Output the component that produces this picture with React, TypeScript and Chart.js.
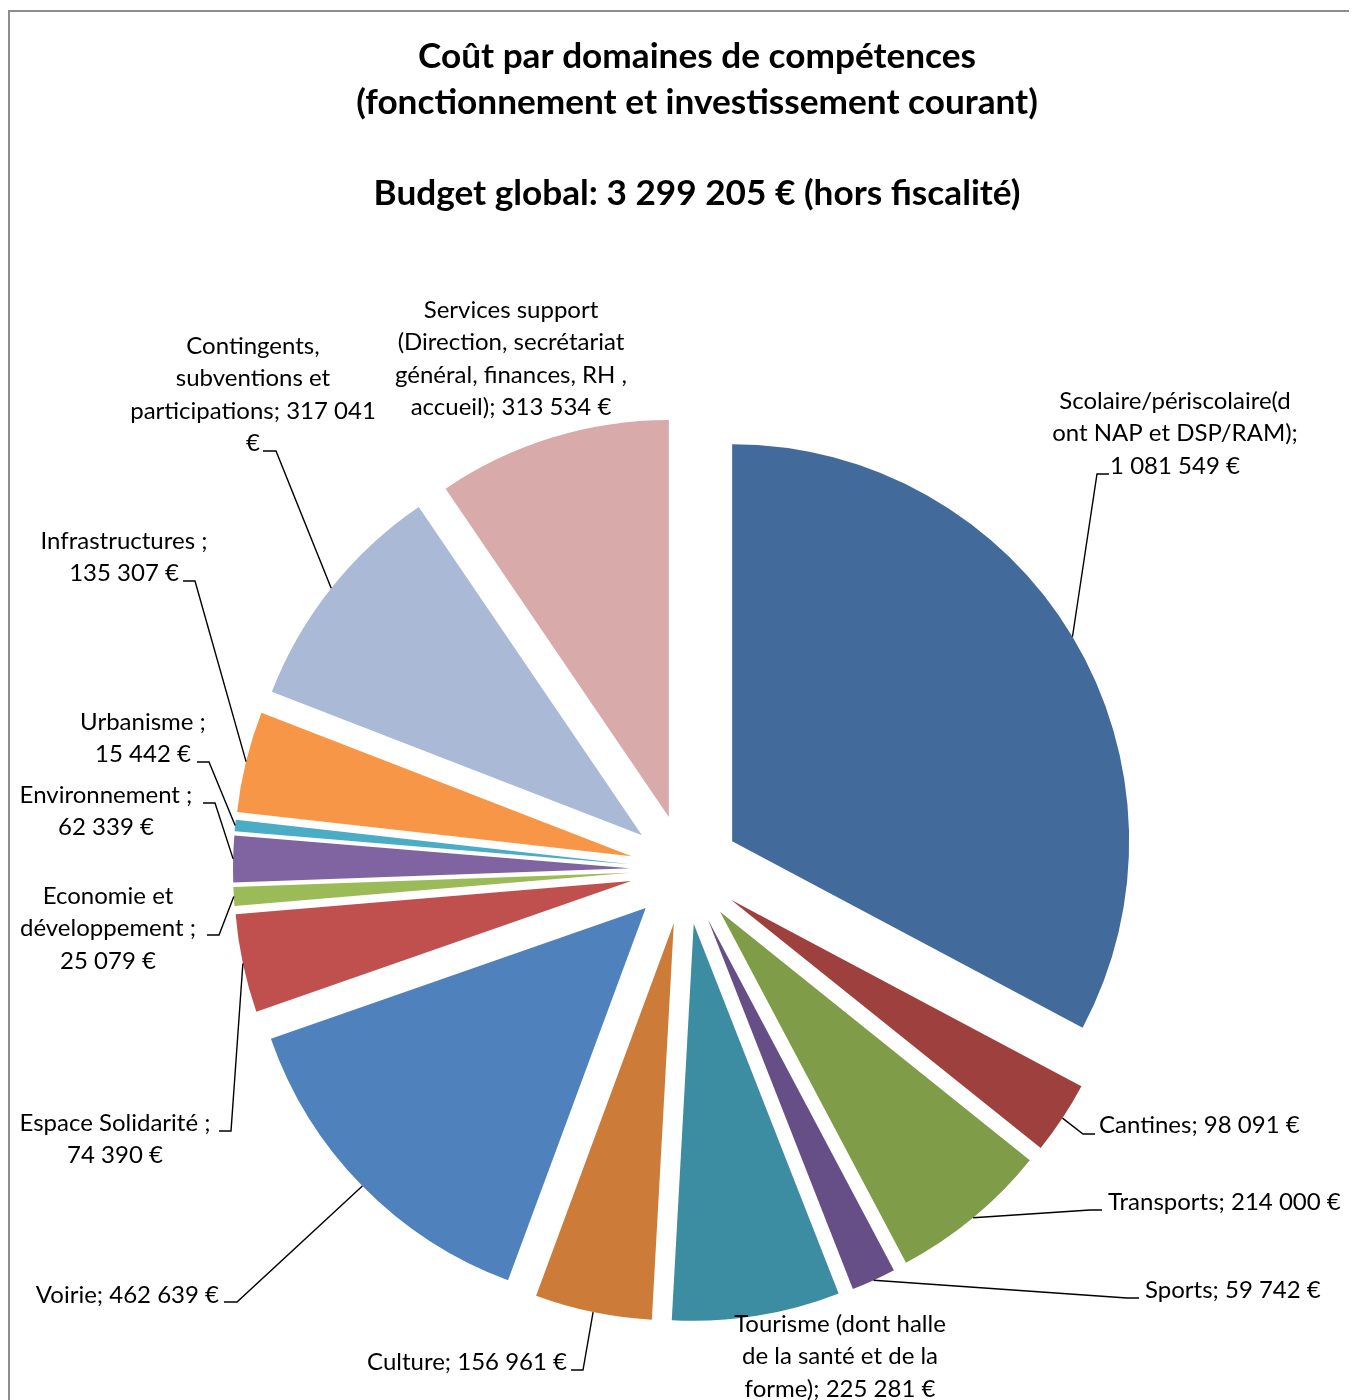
import React, { useEffect, useRef } from "react";
import { Chart, registerables } from "chart.js";

Chart.register(...registerables);

// ---------- data ----------
const categories = [
  "Scolaire/périscolaire(dont NAP et DSP/RAM)",
  "Cantines",
  "Transports",
  "Sports",
  "Tourisme (dont halle de la santé et de la forme)",
  "Culture",
  "Voirie",
  "Espace Solidarité",
  "Economie et développement",
  "Environnement",
  "Urbanisme",
  "Infrastructures",
  "Contingents, subventions et participations",
  "Services support (Direction, secrétariat général, finances, RH , accueil)",
];

// Slice sizes. The red "Espace Solidarité" slice spans ~14.4°,
// i.e. ~132 200 € (which also makes the slices add up to the 3 299 205 € in the title),
// although its printed label reads 74 390 €.
const values = [
  1081549, 98091, 214000, 59742, 225281, 156961, 462639, 132200, 25079, 62339, 15442,
  135307, 317041, 313534,
];

// Printed data labels (text as shown in the chart, wrapped as in the picture)
const labelLines: string[][] = [
  ["Scolaire/périscolaire(d", "ont NAP et DSP/RAM);", "1 081 549 €"],
  ["Cantines; 98 091 €"],
  ["Transports; 214 000 €"],
  ["Sports; 59 742 €"],
  ["Tourisme (dont halle", "de la santé et de la", "forme); 225 281 €"],
  ["Culture; 156 961 €"],
  ["Voirie; 462 639 €"],
  ["Espace Solidarité ;", "74 390 €"],
  ["Economie et", "développement ;", "25 079 €"],
  ["Environnement ;", "62 339 €"],
  ["Urbanisme ;", "15 442 €"],
  ["Infrastructures ;", "135 307 €"],
  ["Contingents,", "subventions et", "participations; 317 041", "€"],
  ["Services support", "(Direction, secrétariat", "général, finances, RH ,", "accueil); 313 534 €"],
];

const colors = [
  "#426A9B", "#9E413E", "#7F9C49", "#664F86", "#3C8CA2", "#CC7B39", "#4F81BD",
  "#C0504D", "#9BBB59", "#8064A2", "#4BACC6", "#F79646", "#AAB9D6", "#D9AAAA",
];

const titleLines = [
  "Coût par domaines de compétences",
  "(fonctionnement et investissement courant)",
  "",
  "Budget global: 3 299 205 € (hors fiscalité)",
];

// ---------- layout (page coordinates) ----------
const OX = 10; // canvas left on page
const OY = 12; // canvas top on page
const CANVAS_W = 1340;
const CANVAS_H = 1396;
const EXPLODE = 55;
const RADIUS = 397;
const LINE_H = 32.4;
const LABEL_FONT = "24px Lato, 'Open Sans', sans-serif";
const TITLE_FONT = "bold 35.2px Lato, 'Open Sans', sans-serif";

type LabelPos = {
  x: number;
  y: number;
  align: CanvasTextAlign;
  elbow?: [number, number];
  tickEnd?: number;
};

const labelPos: LabelPos[] = [
  { x: 1175, y: 401, align: "center", elbow: [1097, 474], tickEnd: 1109 },
  { x: 1099, y: 1125, align: "left", elbow: [1083, 1134], tickEnd: 1095 },
  { x: 1108, y: 1202, align: "left", elbow: [1090, 1210], tickEnd: 1102 },
  { x: 1145, y: 1290, align: "left", elbow: [1127, 1298], tickEnd: 1139 },
  { x: 840, y: 1324, align: "center" },
  { x: 567, y: 1362, align: "right", elbow: [583, 1370], tickEnd: 571 },
  { x: 219, y: 1295, align: "right", elbow: [237, 1302], tickEnd: 224 },
  { x: 115, y: 1123, align: "center", elbow: [231, 1131], tickEnd: 219 },
  { x: 108, y: 896, align: "center", elbow: [219, 935], tickEnd: 207 },
  { x: 106, y: 795, align: "center", elbow: [215, 803], tickEnd: 203 },
  { x: 143, y: 722, align: "center", elbow: [209, 762], tickEnd: 197 },
  { x: 124, y: 541, align: "center", elbow: [195, 581], tickEnd: 183 },
  { x: 253, y: 346, align: "center", elbow: [276, 451], tickEnd: 263 },
  { x: 511, y: 310, align: "center" },
];

const titlePos = { x: 697, y: 57, lineH: 45.5 };

// ---------- plugins ----------
const explodePlugin = {
  id: "explode",
  beforeDatasetDraw(chart: any, args: any) {
    const ctx = chart.ctx;
    args.meta.data.forEach((arc: any) => {
      const mid = (arc.startAngle + arc.endAngle) / 2;
      ctx.save();
      ctx.translate(Math.cos(mid) * EXPLODE, Math.sin(mid) * EXPLODE);
      arc.draw(ctx, chart.chartArea);
      ctx.restore();
    });
    return false;
  },
};

const labelPlugin = {
  id: "pieLabels",
  afterDatasetsDraw(chart: any) {
    const ctx = chart.ctx;
    const meta = chart.getDatasetMeta(0);
    ctx.save();
    ctx.font = LABEL_FONT;
    ctx.fillStyle = "#000000";
    ctx.textBaseline = "middle";
    meta.data.forEach((arc: any, i: number) => {
      const pos = labelPos[i];
      const lines = labelLines[i];
      if (!pos || !lines) return;
      const mid = (arc.startAngle + arc.endAngle) / 2;
      const r = arc.outerRadius + EXPLODE;
      const px = arc.x + Math.cos(mid) * r;
      const py = arc.y + Math.sin(mid) * r;
      if (pos.elbow && pos.tickEnd !== undefined) {
        ctx.beginPath();
        ctx.strokeStyle = "#000000";
        ctx.lineWidth = 1.4;
        ctx.moveTo(px, py);
        ctx.lineTo(pos.elbow[0] - OX, pos.elbow[1] - OY);
        ctx.lineTo(pos.tickEnd - OX, pos.elbow[1] - OY);
        ctx.stroke();
      }
      ctx.textAlign = pos.align;
      lines.forEach((line, k) => {
        ctx.fillText(line, pos.x - OX, pos.y - OY + k * LINE_H);
      });
    });
    ctx.restore();
  },
};

const titlePlugin = {
  id: "customTitle",
  afterDraw(chart: any) {
    const ctx = chart.ctx;
    ctx.save();
    ctx.font = TITLE_FONT;
    ctx.fillStyle = "#000000";
    ctx.textAlign = "center";
    ctx.textBaseline = "middle";
    titleLines.forEach((line, k) => {
      if (line) ctx.fillText(line, titlePos.x - OX, titlePos.y - OY + k * titlePos.lineH);
    });
    ctx.restore();
  },
};

export default function App() {
  const canvasRef = useRef<HTMLCanvasElement | null>(null);

  useEffect(() => {
    const canvas = canvasRef.current;
    if (!canvas) return;
    const centerX = 685 - OX;
    const centerY = 869.5 - OY;
    const padLeft = Math.max(0, 2 * centerX - CANVAS_W);
    const padRight = Math.max(0, CANVAS_W - 2 * centerX);
    const padTop = Math.max(0, 2 * centerY - CANVAS_H);
    const padBottom = Math.max(0, CANVAS_H - 2 * centerY);
    const chart = new Chart(canvas, {
      type: "pie",
      data: {
        labels: categories,
        datasets: [
          {
            data: values,
            backgroundColor: colors,
            borderWidth: 0,
            offset: 0,
            radius: RADIUS,
          } as any,
        ],
      },
      options: {
        responsive: false,
        animation: false,
        radius: RADIUS,
        layout: { padding: { left: padLeft, right: padRight, top: padTop, bottom: padBottom } },
        plugins: {
          legend: { display: false },
          tooltip: { enabled: false },
          title: { display: false },
        },
      } as any,
      plugins: [explodePlugin, labelPlugin, titlePlugin],
    });
    return () => chart.destroy();
  }, []);

  return (
    <div
      style={{
        marginTop: 2,
        width: 1344,
        height: 1400,
        border: "2px solid #8d8d8d",
        boxSizing: "border-box",
        position: "relative",
        background: "#ffffff",
      }}
    >
      <canvas
        ref={canvasRef}
        width={CANVAS_W}
        height={CANVAS_H}
        style={{ position: "absolute", left: 0, top: 0, width: CANVAS_W, height: CANVAS_H }}
      />
    </div>
  );
}
